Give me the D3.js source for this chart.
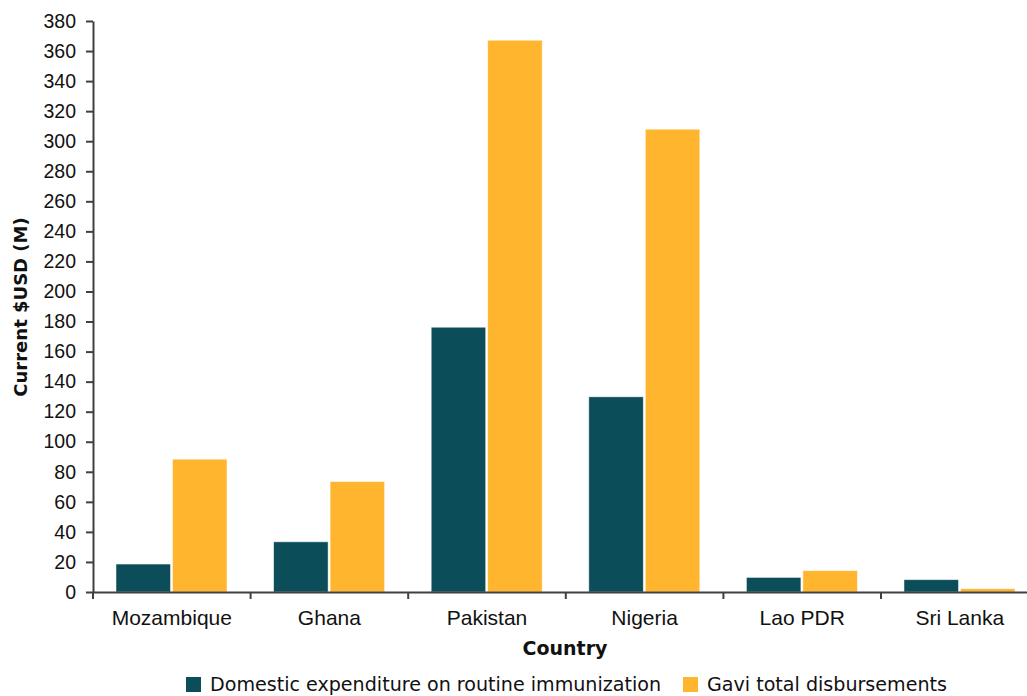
<!DOCTYPE html>
<html>
<head>
<meta charset="utf-8">
<script src="https://cdn.jsdelivr.net/npm/d3@7"></script>
<style>
  body { margin: 0; background: #fff; }
  svg { display: block; font-family: "DejaVu Sans", sans-serif; }
</style>
</head>
<body>
<svg id="chart" width="1027" height="696"></svg>
<script>
// data
const countries = ["Mozambique", "Ghana", "Pakistan", "Nigeria", "Lao PDR", "Sri Lanka"];
const domestic = [18.6, 33.4, 176.2, 129.9, 9.7, 8.2];
const gavi = [88.4, 73.5, 367.2, 308, 14.2, 2.2];
const seriesNames = ["Domestic expenditure on routine immunization", "Gavi total disbursements"];
const colors = ["#0c4d5a", "#ffb52e"];
const yTicks = d3.range(0, 381, 20);

const svg = d3.select("#chart");
const margin = {left: 93, top: 21};

const x = d3.scaleBand()
	.domain(countries)
	.range([margin.left, margin.left + 6 * 157.6]);

const inner = d3.scaleBand()
	.domain([0, 1])
	.range([23, 134]);

const y = d3.scaleLinear()
	.domain([0, 380])
	.range([592, margin.top]);

// bars
const rows = countries.map((c, i) => ({country: c, values: [domestic[i], gavi[i]]}));

svg.append("g")
	.selectAll("g")
	.data(rows)
	.enter()
	.append("g")
	.attr("transform", d => "translate(" + x(d.country) + ",0)")
	.selectAll("rect")
	.data(d => d.values.map((v, k) => ({k: k, v: v})))
	.enter()
	.append("rect")
	.attr("x", d => inner(d.k) + (d.k === 0 ? 0 : 1))
	.attr("width", inner.bandwidth() - 1)
	.attr("y", d => y(d.v))
	.attr("height", d => y(0) - y(d.v))
	.attr("fill", d => colors[d.k])
	.attr("stroke", "#fff")
	.attr("stroke-opacity", 0.6)
	.attr("stroke-width", 0.8);

// y axis
const yAxis = svg.append("g")
	.attr("transform", "translate(" + margin.left + ",0)")
	.call(d3.axisLeft(y).tickValues(yTicks).tickSize(7).tickSizeOuter(0).tickPadding(10));
yAxis.selectAll("text").attr("font-size", 19.5).attr("fill", "#111");

// x axis
const xAxis = svg.append("g")
	.attr("transform", "translate(0," + y(0) + ")")
	.call(d3.axisBottom(x).tickSize(0).tickSizeOuter(0).tickPadding(0));
xAxis.selectAll("text").attr("font-size", 21).attr("fill", "#111")
	.attr("y", 0).attr("dy", 33);
// category boundary ticks
xAxis.selectAll(".bound")
	.data(countries)
	.enter()
	.append("line")
	.attr("class", "bound")
	.attr("x1", d => x(d)).attr("x2", d => x(d))
	.attr("y1", 0).attr("y2", 7)
	.attr("stroke", "#404040").attr("stroke-width", 2);

svg.selectAll(".domain, .tick line").attr("stroke", "#404040").attr("stroke-width", 2);

// axis titles
svg.append("text")
	.attr("x", 565).attr("y", 655)
	.attr("text-anchor", "middle")
	.attr("font-size", 19).attr("font-weight", "bold")
	.attr("fill", "#111")
	.text("Country");

svg.append("text")
	.attr("transform", "translate(27,307) rotate(-90)")
	.attr("text-anchor", "middle")
	.attr("font-size", 18).attr("font-weight", "bold")
	.attr("fill", "#111")
	.text("Current $USD (M)");

// legend
const legendX = [186, 683];
const legend = svg.append("g")
	.selectAll("g")
	.data(seriesNames)
	.enter()
	.append("g")
	.attr("transform", (d, i) => "translate(" + legendX[i] + ",677)");
legend.append("rect")
	.attr("width", 15).attr("height", 15)
	.attr("fill", (d, i) => colors[i]);
legend.append("text")
	.attr("x", 24).attr("y", 14)
	.attr("font-size", 19.1).attr("fill", "#111")
	.text(d => d);
</script>
</body>
</html>
